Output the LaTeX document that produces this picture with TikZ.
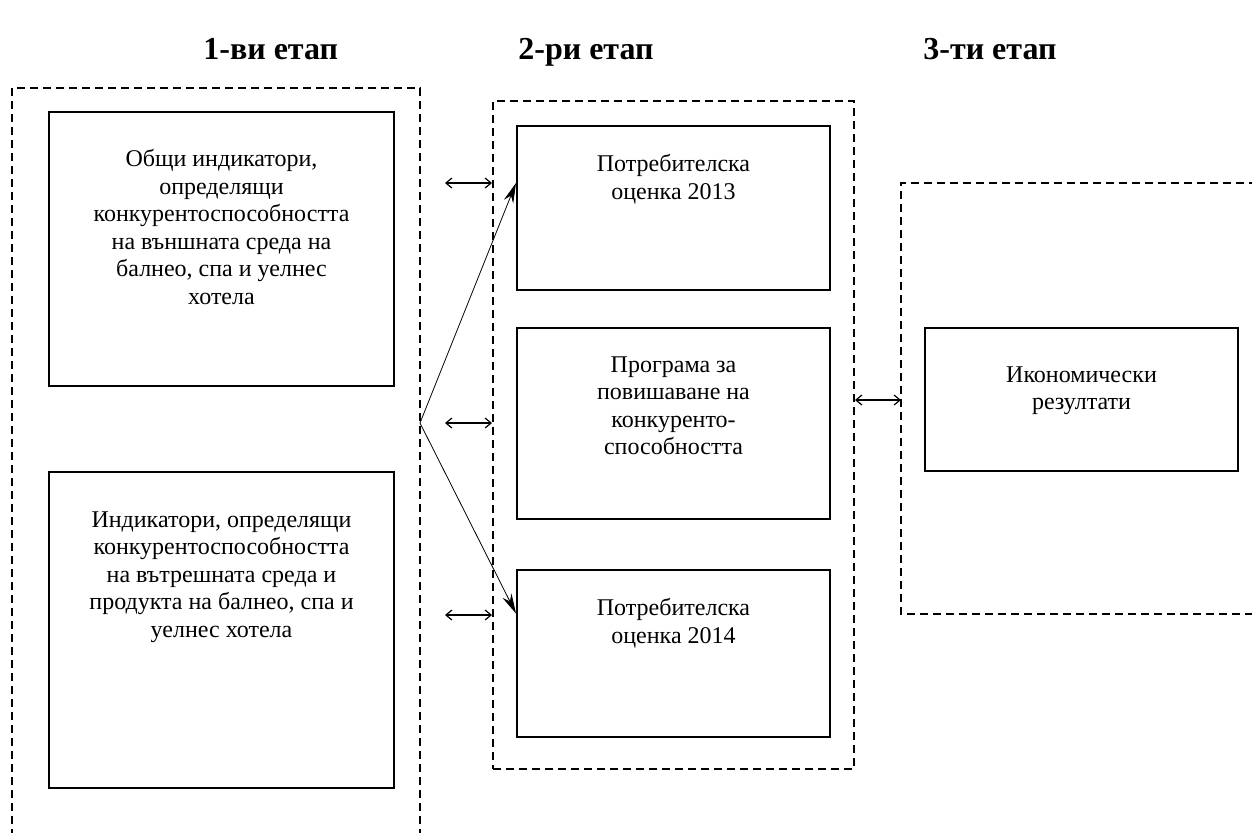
\documentclass[tikz,border=0pt]{standalone}
\usepackage{fontspec}
\setmainfont{Liberation Serif}
\usetikzlibrary{positioning}
\usetikzlibrary{arrows.meta}

\tikzset{
  box/.style={rectangle,draw,line width=1pt,anchor=north west,inner sep=0pt},
  stagefr/.style={draw,line width=1pt,dash pattern=on 4pt off 2.5pt},
  txt/.style={anchor=north,align=center,inner sep=0pt,font=\fontsize{12}{13.8}\selectfont},
  head/.style={anchor=base west,inner sep=0pt,font=\fontsize{16}{18}\selectfont\bfseries},
  dbl/.style={{Straight Barb[length=3pt,width=5pt]}-{Straight Barb[length=3pt,width=5pt]},line width=0.6pt},
  link/.style={-{Stealth[length=10pt,width=5pt]},line width=0.4pt}
}

\begin{document}
\begin{tikzpicture}[x=0.5pt,y=-0.5pt]
    \useasboundingbox (0,0) rectangle (1252,832);
    \clip (0,0) rectangle (1252,832);
    % stage titles
    \node[head] (h1) at (203,59) {1-ви етап};
    \node[head] (h2) at (518,59) {2-ри етап};
    \node[head] (h3) at (923,59) {3-ти етап};

    % stage frames
    \draw[stagefr] (12,850) -- (12,88) -- (420,88) -- (420,850);
    \node[box,stagefr,minimum width=180.5pt,minimum height=334pt] (stage2) at (492,100) {};
    \draw[stagefr] (1270,183) -- (901,183) -- (901,614) -- (1270,614);
    \coordinate (stage3) at (901,400);
    \coordinate (fork) at (420,423);

    % stage 1
    \node[box,minimum width=172.5pt,minimum height=137pt] (general) at (48,111) {};
    \node[txt,below=19pt of general.north] {Общи индикатори,\\определящи\\конкурентоспособността\\на външната среда на\\балнео, спа и уелнес\\хотела};
    \node[box,minimum width=172.5pt,minimum height=158pt] (internal) at (48,471) {};
    \node[txt,below=20pt of internal.north] {Индикатори, определящи\\конкурентоспособността\\на вътрешната среда и\\продукта на балнео, спа и\\уелнес хотела};

    % stage 2
    \node[box,minimum width=156.5pt,minimum height=82pt] (survey13) at (516,125) {};
    \node[txt,below=14.5pt of survey13.north] {Потребителска\\оценка 2013};
    \node[box,minimum width=156.5pt,minimum height=95.5pt] (program) at (516,327) {};
    \node[txt,below=14.5pt of program.north] {Програма за\\повишаване на\\конкуренто-\\способността};
    \node[box,minimum width=156.5pt,minimum height=83.5pt] (survey14) at (516,569) {};
    \node[txt,below=14.5pt of survey14.north] {Потребителска\\оценка 2014};

    % stage 3
    \node[box,minimum width=156.5pt,minimum height=71.5pt] (econ) at (924,327) {};
    \node[txt,below=19.5pt of econ.north] {Икономически\\резултати};

    % connectors
    \foreach \y/\r in {183/r1,423/r2,615/r3} {
        \coordinate (\r) at (445,\y);
        \draw[dbl] (\r) -- (\r -| stage2.west);
    }
    \draw[dbl] (stage2.east |- stage3) -- (stage3);
    \draw[link] (fork) -- (survey13.west |- r1);
    \draw[link] (fork) -- ([yshift=20pt]survey14.west);
\end{tikzpicture}
\end{document}
